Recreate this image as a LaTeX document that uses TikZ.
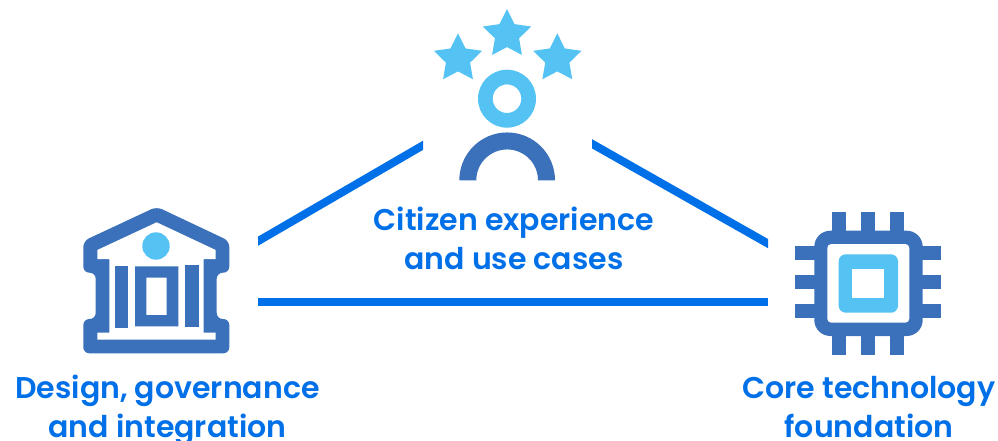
\documentclass[tikz,border=0pt]{standalone}
\usepackage{fontspec}
\setmainfont{Poppins}[BoldFont=Poppins SemiBold]
\usetikzlibrary{shapes.geometric}
\definecolor{linec}{HTML}{0070E8}
\definecolor{darkc}{HTML}{3B71BA}
\definecolor{lightc}{HTML}{54C3F3}
\tikzset{
  lbl/.style={font=\bfseries\fontsize{30}{39}\selectfont, text=linec, align=center, inner sep=0pt, anchor=base},
  starn/.style={star, star points=5, star point ratio=2, minimum size=50.8pt, inner sep=0pt, fill=lightc, draw=none},
  dark/.style={fill=darkc, even odd rule},
  light/.style={fill=lightc, even odd rule}
}
\begin{document}
\begin{tikzpicture}[x=1pt,y=-1pt]
\useasboundingbox (0,0) rectangle (998,441);
% connectors
\coordinate (a1) at (258,241.2); \coordinate (a2) at (423,145.3);
\coordinate (b1) at (592,143.8); \coordinate (b2) at (768,243.6);
\coordinate (c1) at (258,302); \coordinate (c2) at (768,302);
\fill[linec] ([yshift=4.6pt]a1) -- ([yshift=4.6pt]a2) -- ([yshift=-4.6pt]a2) -- ([yshift=-4.6pt]a1) -- cycle;
\fill[linec] ([yshift=4.6pt]b1) -- ([yshift=4.6pt]b2) -- ([yshift=-4.6pt]b2) -- ([yshift=-4.6pt]b1) -- cycle;
\fill[linec] ([yshift=4pt]c1) -- ([yshift=4pt]c2) -- ([yshift=-4pt]c2) -- ([yshift=-4pt]c1) -- cycle;
% person with stars
\node[starn] (s1) at (458,58.7) {};
\node[starn] (s2) at (507,34.4) {};
\node[starn] (s3) at (557.3,58.7) {};
\fill[light] (507,98.7) circle[radius=29] (507,98.7) circle[radius=14.3];
\fill[darkc] (459.3,180.3) arc[start angle=180,end angle=360,radius=47.85] -- (538,180.3) arc[start angle=360,end angle=180,radius=30.85] -- cycle;
% building
\fill[darkc, rounded corners=6pt] (156.7,206.7) -- (229.3,241) -- (229.3,272.7) -- (216.7,272.7) -- (216.7,319) -- (229.3,319) -- (229.3,353.3) -- (83.3,353.3) -- (83.3,319) -- (95.7,319) -- (95.7,272.7) -- (83.3,272.7) -- (83.3,241) -- cycle;
\fill[white] (156.7,222.3) -- (215.7,250) -- (215.7,259) -- (203.7,259) -- (203.7,332.7) -- (215.7,332.7) -- (215.7,339.7) -- (97.3,339.7) -- (97.3,332.7) -- (109.3,332.7) -- (109.3,259) -- (97.3,259) -- (97.3,250) -- cycle;
\fill[lightc] (156,246) circle[radius=13.7];
\fill[darkc] (115,266) rectangle (128,327.7);
\fill[darkc] (185,265) rectangle (199,326.7);
\fill[dark] (135,266.3) rectangle (178.3,326.3) (146.3,277.7) rectangle (166.7,315);
% chip
\foreach \x in {832.3,861.3,890.3} {
  \fill[darkc] (\x,212) rectangle ++(14,143);
}
\foreach \y in {246.3,275.3,304.3} {
  \fill[darkc] (795.3,\y) rectangle ++(146,14);
}
\fill[darkc, rounded corners=16pt] (814.3,230.7) rectangle (922.7,336);
\fill[white, rounded corners=4pt] (827.3,244) rectangle (909.3,322.7);
\fill[lightc, rounded corners=7pt] (838.7,254.3) rectangle (898,312.7);
\fill[white] (852.3,269) rectangle (884,298.3);
% labels
\node[lbl] (t1) at (514,269) {Citizen experience\\and use cases};
\node[lbl] (t2) at (167.5,437) {Design, governance\\and integration};
\node[lbl] (t3) at (869,437) {Core technology\\foundation};
\end{tikzpicture}
\end{document}
